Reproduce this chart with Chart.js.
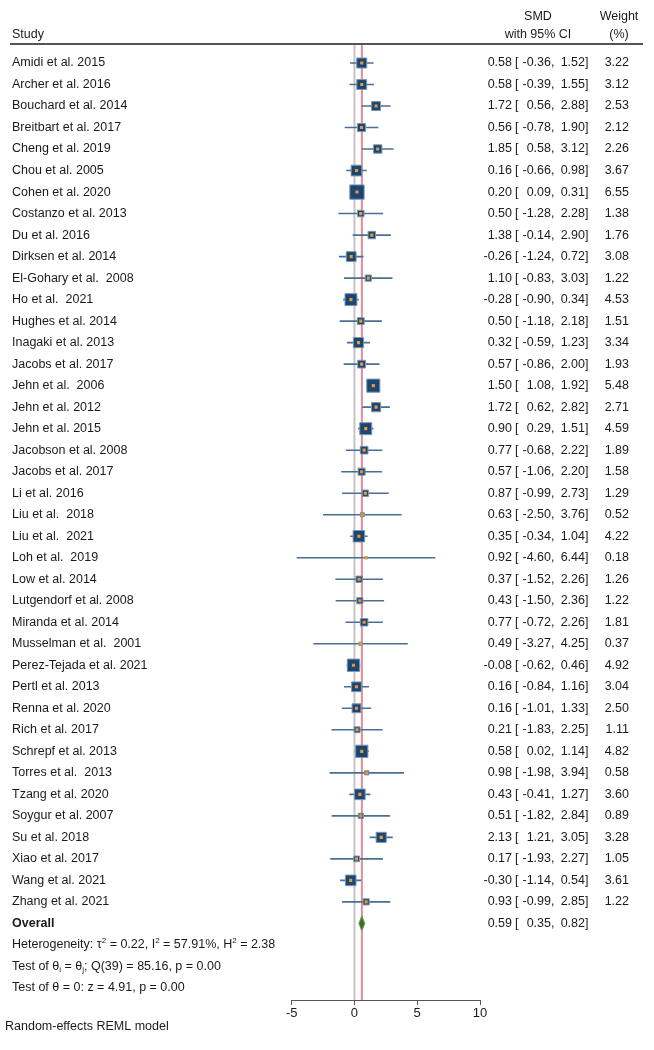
<!DOCTYPE html>
<html>
<head>
<meta charset="utf-8">
<script src="https://cdn.jsdelivr.net/npm/chart.js@4.4.1/dist/chart.umd.min.js"></script>
<style>
  html, body { margin: 0; padding: 0; background: #fff; }
  #wrap { width: 654px; height: 1050px; }
</style>
</head>
<body>
<div id="wrap"><canvas id="forest" width="654" height="1050"></canvas></div>
<script>
// Study data
const studies = [
    'Amidi et al. 2015', 'Archer et al. 2016', 'Bouchard et al. 2014', 'Breitbart et al. 2017',
    'Cheng et al. 2019', 'Chou et al. 2005', 'Cohen et al. 2020', 'Costanzo et al. 2013',
    'Du et al. 2016', 'Dirksen et al. 2014', 'El-Gohary et al.  2008', 'Ho et al.  2021',
    'Hughes et al. 2014', 'Inagaki et al. 2013', 'Jacobs et al. 2017', 'Jehn et al.  2006',
    'Jehn et al. 2012', 'Jehn et al. 2015', 'Jacobson et al. 2008', 'Jacobs et al. 2017',
    'Li et al. 2016', 'Liu et al.  2018', 'Liu et al.  2021', 'Loh et al.  2019',
    'Low et al. 2014', 'Lutgendorf et al. 2008', 'Miranda et al. 2014', 'Musselman et al.  2001',
    'Perez-Tejada et al. 2021', 'Pertl et al. 2013', 'Renna et al. 2020', 'Rich et al. 2017',
    'Schrepf et al. 2013', 'Torres et al.  2013', 'Tzang et al. 2020', 'Soygur et al. 2007',
    'Su et al. 2018', 'Xiao et al. 2017', 'Wang et al. 2021', 'Zhang et al. 2021'
];
const smd = [
    0.58, 0.58, 1.72, 0.56, 1.85, 0.16, 0.20, 0.50, 1.38, -0.26,
    1.10, -0.28, 0.50, 0.32, 0.57, 1.50, 1.72, 0.90, 0.77, 0.57,
    0.87, 0.63, 0.35, 0.92, 0.37, 0.43, 0.77, 0.49, -0.08, 0.16,
    0.16, 0.21, 0.58, 0.98, 0.43, 0.51, 2.13, 0.17, -0.30, 0.93
];
const ciLower = [
    -0.36, -0.39, 0.56, -0.78, 0.58, -0.66, 0.09, -1.28, -0.14, -1.24,
    -0.83, -0.90, -1.18, -0.59, -0.86, 1.08, 0.62, 0.29, -0.68, -1.06,
    -0.99, -2.50, -0.34, -4.60, -1.52, -1.50, -0.72, -3.27, -0.62, -0.84,
    -1.01, -1.83, 0.02, -1.98, -0.41, -1.82, 1.21, -1.93, -1.14, -0.99
];
const ciUpper = [
    1.52, 1.55, 2.88, 1.90, 3.12, 0.98, 0.31, 2.28, 2.90, 0.72,
    3.03, 0.34, 2.18, 1.23, 2.00, 1.92, 2.82, 1.51, 2.22, 2.20,
    2.73, 3.76, 1.04, 6.44, 2.26, 2.36, 2.26, 4.25, 0.46, 1.16,
    1.33, 2.25, 1.14, 3.94, 1.27, 2.84, 3.05, 2.27, 0.54, 2.85
];
const weights = [
    3.22, 3.12, 2.53, 2.12, 2.26, 3.67, 6.55, 1.38, 1.76, 3.08,
    1.22, 4.53, 1.51, 3.34, 1.93, 5.48, 2.71, 4.59, 1.89, 1.58,
    1.29, 0.52, 4.22, 0.18, 1.26, 1.22, 1.81, 0.37, 4.92, 3.04,
    2.50, 1.11, 4.82, 0.58, 3.60, 0.89, 3.28, 1.05, 3.61, 1.22
];

// Pooled estimate and test statistics
const overallSmd = 0.59;
const overallLower = 0.35;
const overallUpper = 0.82;
const tau2 = 0.22, i2 = 57.91, h2 = 2.38;
const qStat = 85.16, qDf = 39, qP = 0.00;
const zStat = 4.91, zP = 0.00;

const xTicks = [-5, 0, 5, 10];

// Layout (pixels)
const ROW0 = 63, ROW_GAP = 21.51, TOP = 44, AXIS_Y = 1000;
const PLOT_LEFT = 291.7, PLOT_RIGHT = 480;
const yMin = (TOP - ROW0) / ROW_GAP;
const yMax = (AXIS_Y - ROW0) / ROW_GAP;
const overallRow = studies.length;

const FONT = '"Liberation Sans", Arial, sans-serif';
const FS = 12.5;
const TXT = '#1a1a1a';

// one dataset per confidence interval
const ciSets = studies.map((s, i) => ({
    data: [{ x: ciLower[i], y: i }, { x: ciUpper[i], y: i }],
    showLine: true,
    borderColor: '#4a6f93',
    borderWidth: 1.6,
    pointRadius: 0,
    order: 3
}));

// helper: draw a row's "est [ lo, hi]" text
function drawCI(ctx, y, est, lo, hi) {
    ctx.textAlign = 'right';
    ctx.fillText(est.toFixed(2), 512, y);
    ctx.fillText(lo.toFixed(2), 551, y);
    ctx.fillText(hi.toFixed(2), 585, y);
    ctx.textAlign = 'left';
    ctx.fillText('[', 515, y);
    ctx.fillText(',', 551, y);
    ctx.fillText(']', 585, y);
}

// helper: text with super/subscripts
function drawRich(ctx, x, y, parts) {
    ctx.textAlign = 'left';
    parts.forEach(([t, kind]) => {
        if (kind) {
            ctx.font = '8px ' + FONT;
            ctx.fillText(t, x, kind === 'sup' ? y - 4 : y + 3);
        } else {
            ctx.font = FS + 'px ' + FONT;
            ctx.fillText(t, x, y);
        }
        x += ctx.measureText(t).width;
    });
    ctx.font = FS + 'px ' + FONT;
}

const textPlugin = {
    id: 'forestText',
    afterDraw(chart) {
        const ctx = chart.ctx;
        const ys = chart.scales.y;
        ctx.save();
        ctx.fillStyle = TXT;
        ctx.textBaseline = 'middle';
        ctx.font = FS + 'px ' + FONT;

        // header
        ctx.textAlign = 'left';
        ctx.fillText('Study', 12, 35);
        ctx.textAlign = 'center';
        ctx.fillText('SMD', 538, 17);
        ctx.fillText('with 95% CI', 538, 35);
        ctx.fillText('Weight', 619, 17);
        ctx.fillText('(%)', 619, 35);

        ctx.strokeStyle = '#555';
        ctx.lineWidth = 2;
        ctx.beginPath();
        ctx.moveTo(10, TOP);
        ctx.lineTo(643, TOP);
        ctx.stroke();

        // rows
        studies.forEach((name, i) => {
            const y = ys.getPixelForValue(i);
            ctx.textAlign = 'left';
            ctx.fillText(name, 12, y);
            drawCI(ctx, y, smd[i], ciLower[i], ciUpper[i]);
            ctx.textAlign = 'right';
            ctx.fillText(weights[i].toFixed(2), 629, y);
        });

        // overall
        const yo = ys.getPixelForValue(overallRow);
        ctx.font = 'bold ' + FS + 'px ' + FONT;
        ctx.textAlign = 'left';
        ctx.fillText('Overall', 12, yo);
        ctx.font = FS + 'px ' + FONT;
        drawCI(ctx, yo, overallSmd, overallLower, overallUpper);

        drawRich(ctx, 12, ys.getPixelForValue(overallRow + 1), [
            ['Heterogeneity: \u03c4'], ['2', 'sup'], [' = ' + tau2.toFixed(2) + ', I'], ['2', 'sup'],
            [' = ' + i2.toFixed(2) + '%, H'], ['2', 'sup'], [' = ' + h2.toFixed(2)]
        ]);
        drawRich(ctx, 12, ys.getPixelForValue(overallRow + 2), [
            ['Test of \u03b8'], ['i', 'sub'], [' = \u03b8'], ['j', 'sub'],
            ['; Q(' + qDf + ') = ' + qStat.toFixed(2) + ', p = ' + qP.toFixed(2)]
        ]);
        drawRich(ctx, 12, ys.getPixelForValue(overallRow + 3), [
            ['Test of \u03b8 = 0: z = ' + zStat.toFixed(2) + ', p = ' + zP.toFixed(2)]
        ]);

        ctx.textAlign = 'left';
        ctx.fillText('Random-effects REML model', 5, 1027);
        ctx.restore();
    }
};

let forestChart;

function initializeChart() {
    const ctx = document.getElementById('forest').getContext('2d');
    const diamondH = 7.5 / ROW_GAP;
    forestChart = new Chart(ctx, {
        type: 'scatter',
        data: {
            datasets: [
                // orange centre dots
                {
                    data: studies.map((s, i) => ({ x: smd[i], y: i })),
                    pointStyle: 'rect',
                    pointRadius: 2.2,
                    backgroundColor: '#f2962a',
                    borderWidth: 0,
                    order: 0
                },
                // weighted squares
                {
                    data: studies.map((s, i) => ({ x: smd[i], y: i })),
                    pointStyle: 'rect',
                    pointRadius: weights.map(w => 5.6 * Math.sqrt(w) / 1.414),
                    backgroundColor: '#1b4672',
                    borderColor: '#7b98b6',
                    borderWidth: 1,
                    order: 1
                },
                // overall diamond
                {
                    data: [
                        { x: overallLower, y: overallRow },
                        { x: overallSmd, y: overallRow - diamondH },
                        { x: overallUpper, y: overallRow },
                        { x: overallSmd, y: overallRow + diamondH },
                        { x: overallLower, y: overallRow }
                    ],
                    showLine: true,
                    fill: 'shape',
                    backgroundColor: '#3f6d2b',
                    borderColor: '#6f9a52',
                    borderWidth: 1,
                    pointRadius: 0,
                    order: 2
                },
                ...ciSets,
                // overall effect line
                {
                    data: [{ x: overallSmd, y: yMin }, { x: overallSmd, y: yMax }],
                    showLine: true,
                    borderColor: '#e08d98',
                    borderWidth: 2,
                    pointRadius: 0,
                    order: 5
                },
                // no-effect line
                {
                    data: [{ x: 0, y: yMin }, { x: 0, y: yMax }],
                    showLine: true,
                    borderColor: '#c4c4c4',
                    borderWidth: 2,
                    pointRadius: 0,
                    order: 6
                }
            ]
        },
        options: {
            responsive: false,
            animation: false,
            devicePixelRatio: 1,
            layout: {
                padding: { left: PLOT_LEFT, right: 654 - PLOT_RIGHT, top: TOP, bottom: 0 }
            },
            plugins: {
                legend: { display: false },
                tooltip: { enabled: false }
            },
            scales: {
                x: {
                    type: 'linear',
                    min: -5,
                    max: 10,
                    afterBuildTicks: s => { s.ticks = xTicks.map(v => ({ value: v })); },
                    afterFit: s => { s.height = 1050 - AXIS_Y; },
                    grid: {
                        drawOnChartArea: false,
                        drawTicks: true,
                        tickLength: 5,
                        color: '#555',
                        lineWidth: 1
                    },
                    border: { display: true, color: '#555', width: 1 },
                    ticks: {
                        padding: 1,
                        color: TXT,
                        font: { family: FONT, size: 13 },
                        maxRotation: 0
                    }
                },
                y: {
                    type: 'linear',
                    display: false,
                    reverse: true,
                    min: yMin,
                    max: yMax
                }
            }
        },
        plugins: [textPlugin]
    });
}

document.addEventListener('DOMContentLoaded', initializeChart);
</script>
</body>
</html>
